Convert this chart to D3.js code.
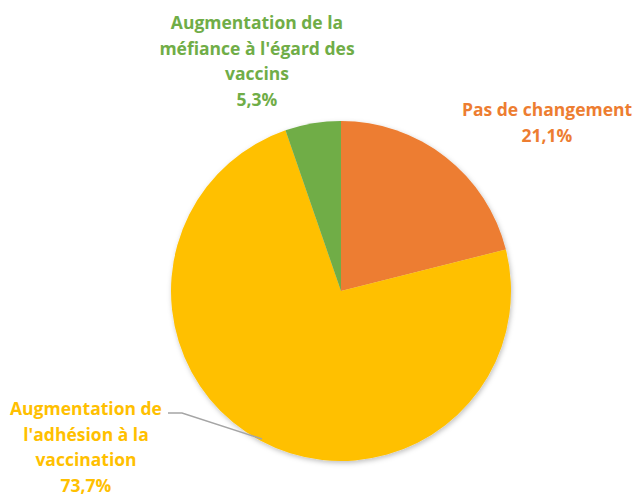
<!DOCTYPE html>
<html>
<head>
<meta charset="utf-8">
<script src="https://cdn.jsdelivr.net/npm/d3@7"></script>
<style>
  body { margin: 0; background: #fff; }
  text { font-family: "Open Sans", Lato, sans-serif; font-weight: bold; }
</style>
</head>
<body>
<div id="chart-area"></div>
<script>
// Données
var categories = ["Pas de changement", "Augmentation de l'adhésion à la vaccination", "Augmentation de la méfiance à l'égard des vaccins"];
var values = [21.1, 73.7, 5.3];
var labels = ["21,1%", "73,7%", "5,3%"];
var colors = ["#ED7D31", "#FFC000", "#70AD47"];
var labelLines = [
  ["Pas de changement"],
  ["Augmentation de", "l'adhésion à la", "vaccination"],
  ["Augmentation de la", "méfiance à l'égard des", "vaccins"]
];

var width = 636, height = 495;
var cx = 341, cy = 291, radius = 170;

var svg = d3.select("#chart-area").append("svg")
    .attr("width", width)
    .attr("height", height);

var defs = svg.append("defs");
var filt = defs.append("filter").attr("id", "shadow")
    .attr("x", "-10%").attr("y", "-10%").attr("width", "120%").attr("height", "120%");
filt.append("feDropShadow")
    .attr("dx", 1).attr("dy", 2).attr("stdDeviation", 2.5)
    .attr("flood-color", "#000").attr("flood-opacity", 0.25);

var g = svg.append("g")
    .attr("transform", "translate(" + cx + "," + cy + ")");

var pie = d3.pie().sort(null).value(function(d) { return d; });
var arc = d3.arc().innerRadius(0).outerRadius(radius);
var arcs = pie(values);

g.append("g").attr("filter", "url(#shadow)")
  .selectAll("path")
  .data(arcs)
  .enter().append("path")
    .attr("d", arc)
    .attr("fill", function(d, i) { return colors[i]; });

// Positions des étiquettes (centre x, ligne de base de la première ligne)
var labelPos = [[547, 116], [86, 415], [257, 29]];
var lineH = 25.5;

labelLines.forEach(function(lines, i) {
  var t = svg.append("text")
      .attr("text-anchor", "middle")
      .attr("fill", colors[i])
      .style("font-size", "17.5px");
  lines.concat([labels[i]]).forEach(function(s, j) {
    t.append("tspan")
      .attr("x", labelPos[i][0])
      .attr("y", labelPos[i][1] + j * lineH)
      .text(s);
  });
});

// Ligne de rappel pour la tranche jaune
svg.append("polyline")
    .attr("points", [[168, 413], [182, 413], [262, 439]].map(function(p) { return p.join(","); }).join(" "))
    .attr("fill", "none")
    .attr("stroke", "#A5A5A5")
    .attr("stroke-width", 1.5);
</script>
</body>
</html>
